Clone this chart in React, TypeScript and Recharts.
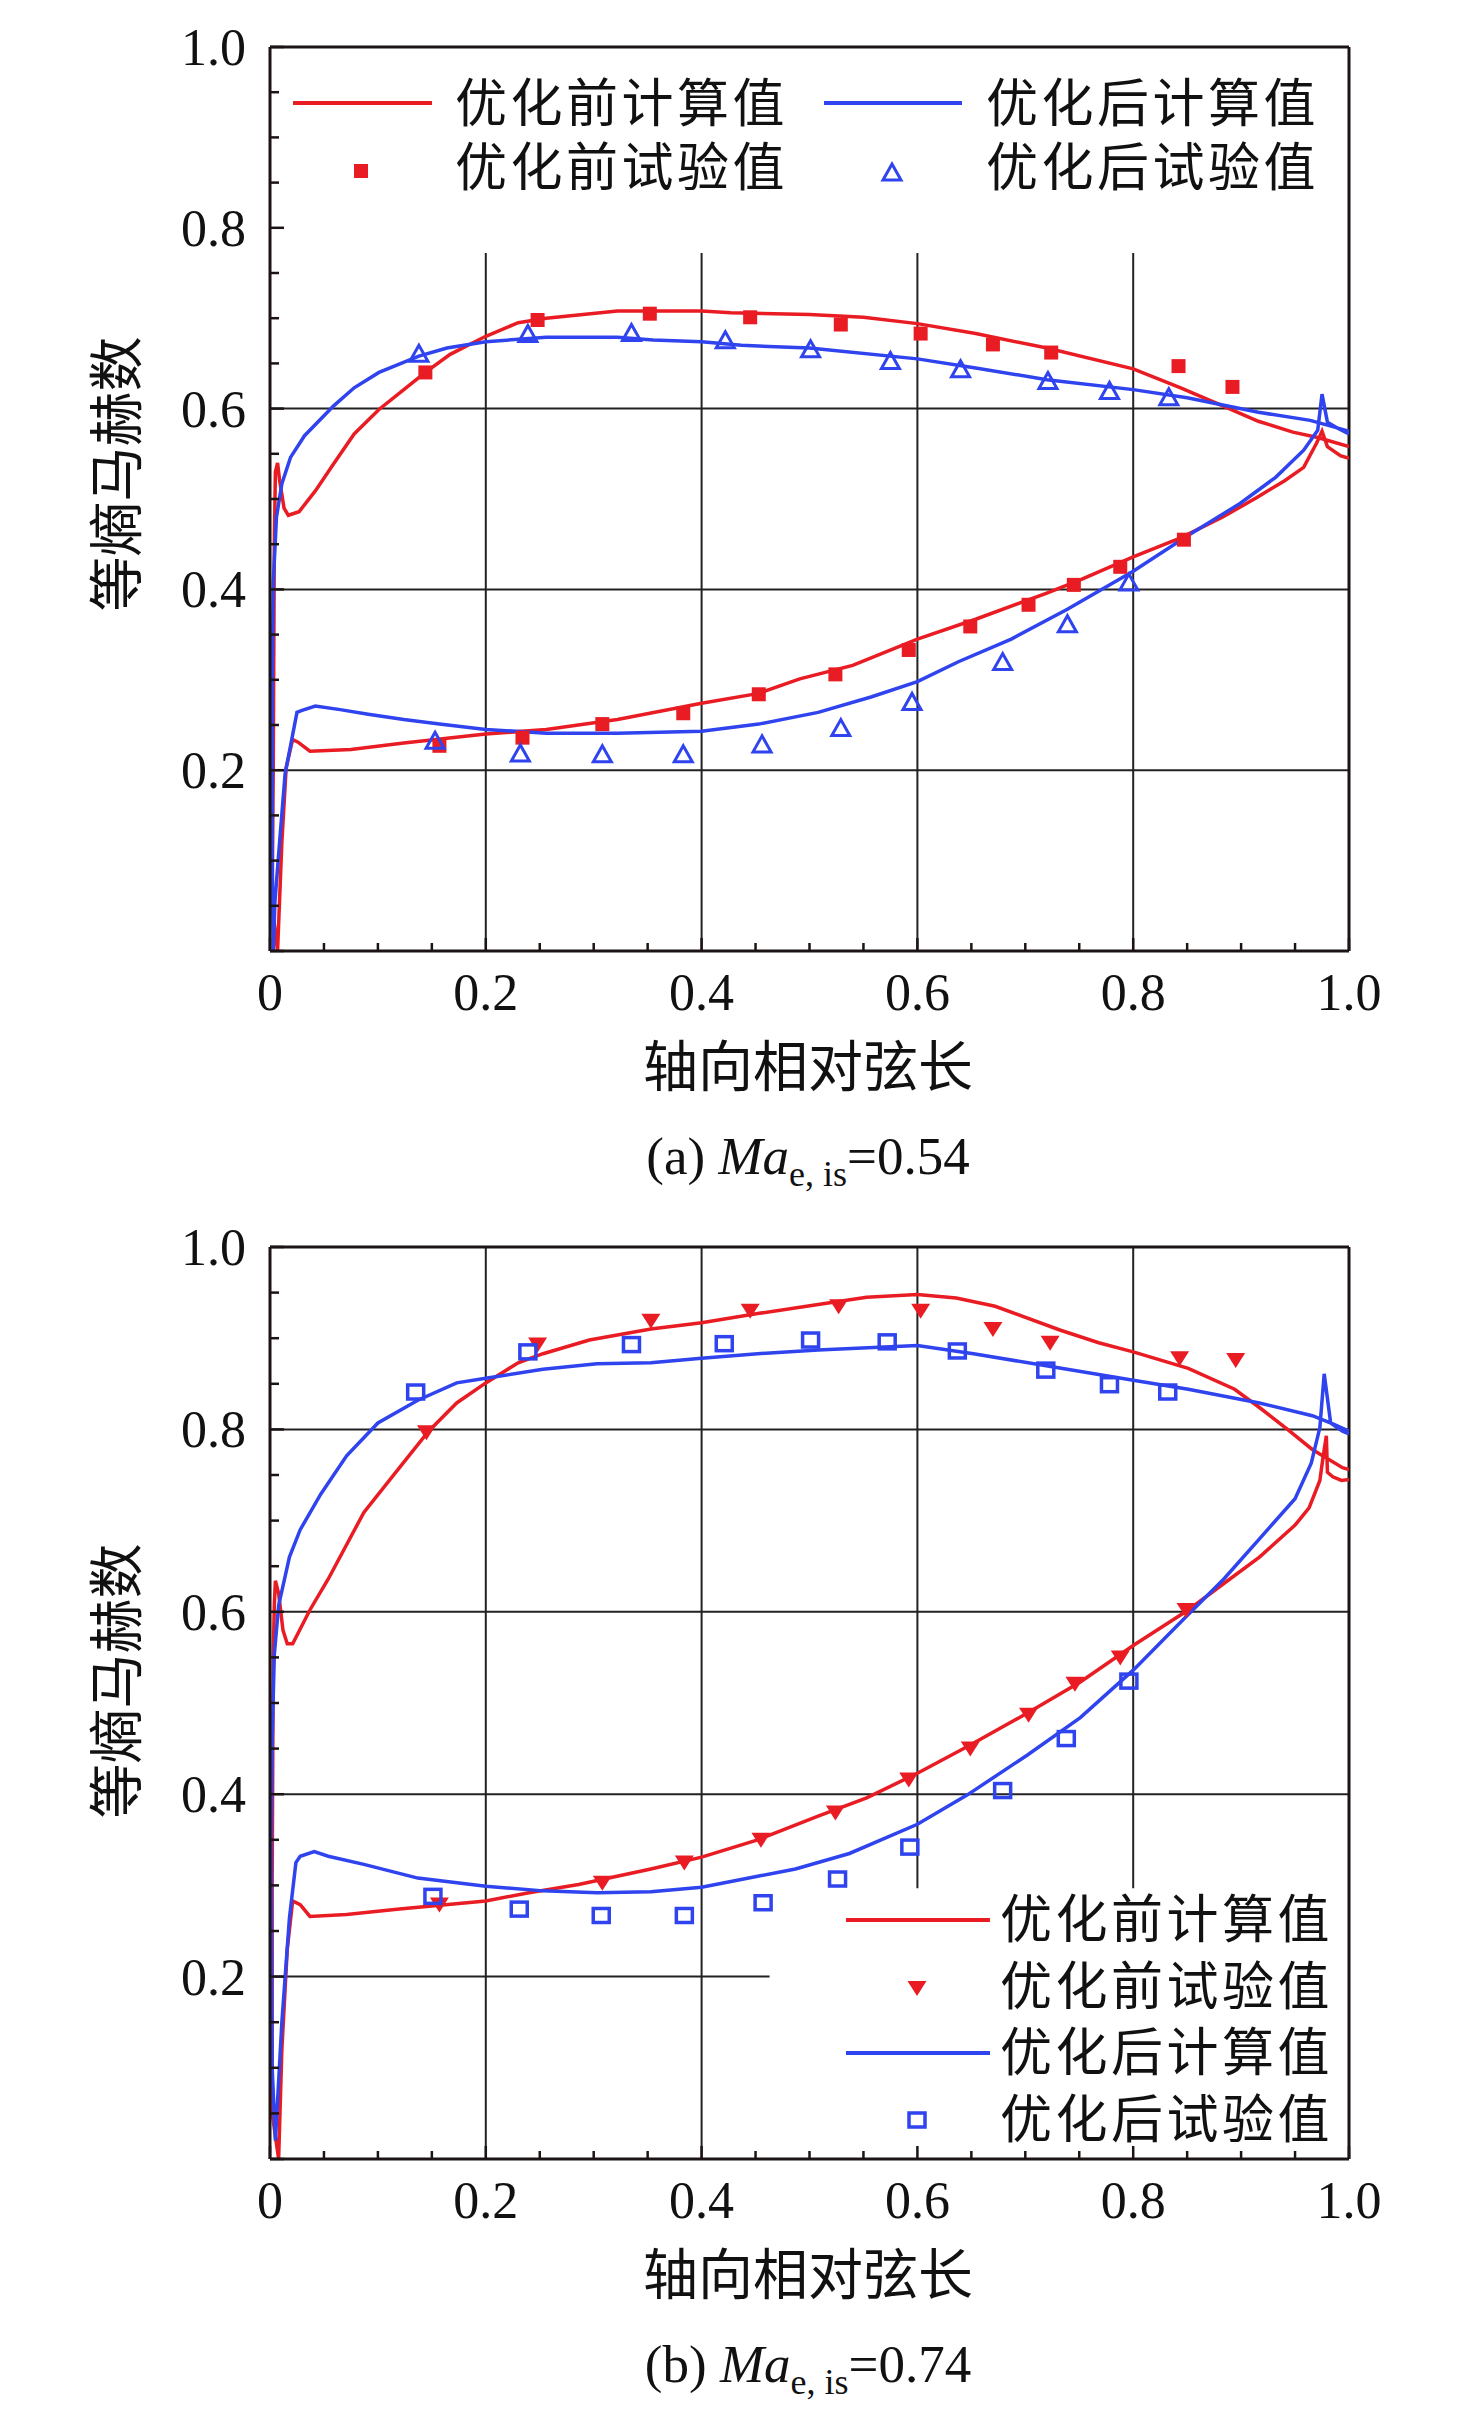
import React from 'react';
import { ComposedChart, Line, Scatter, XAxis, YAxis, ReferenceLine } from 'recharts';

const RED = '#e91c24';
const BLUE = '#2f43ee';
const INK = '#1c1414';
const GRID = '#222222';
const SERIF = '"Liberation Serif", "Times New Roman", serif';
const CJK = '"Noto Sans CJK SC", "Noto Sans", sans-serif';

const X_TICKS = [0, 0.05, 0.1, 0.15, 0.2, 0.25, 0.3, 0.35, 0.4, 0.45, 0.5, 0.55, 0.6, 0.65, 0.7, 0.75, 0.8, 0.85, 0.9, 0.95, 1];
const Y_TICKS = [0, 0.05, 0.1, 0.15, 0.2, 0.25, 0.3, 0.35, 0.4, 0.45, 0.5, 0.55, 0.6, 0.65, 0.7, 0.75, 0.8, 0.85, 0.9, 0.95, 1];

const LEGEND_NAMES = ['优化前计算值', '优化后计算值', '优化前试验值', '优化后试验值'];
const Y_TITLE = '等熵马赫数';
const X_TITLE = '轴向相对弦长';

// (a) Ma = 0.54 — calc curves run TE pressure side -> LE -> TE suction side
const A_BEFORE_CALC = [
  [1.0, 0.545], [0.992, 0.548], [0.98, 0.558], [0.975, 0.575], [0.97, 0.562], [0.958, 0.535], [0.94, 0.52],
  [0.915, 0.502], [0.883, 0.48], [0.844, 0.457], [0.8, 0.436], [0.752, 0.411], [0.72, 0.396], [0.654, 0.367],
  [0.6, 0.345], [0.54, 0.316], [0.491, 0.301], [0.453, 0.285], [0.4, 0.274], [0.322, 0.256], [0.256, 0.245],
  [0.2, 0.24], [0.124, 0.23], [0.075, 0.223], [0.037, 0.221], [0.026, 0.231], [0.021, 0.234], [0.015, 0.203],
  [0.011, 0.12], [0.007, 0.0],
  [0.002, 0.05], [0.003, 0.2], [0.004, 0.45], [0.005, 0.53], [0.007, 0.54], [0.009, 0.52], [0.013, 0.49],
  [0.017, 0.482], [0.027, 0.486], [0.042, 0.509], [0.059, 0.539], [0.078, 0.572], [0.101, 0.599], [0.124, 0.621],
  [0.144, 0.64], [0.167, 0.66], [0.2, 0.68], [0.23, 0.695], [0.256, 0.7], [0.322, 0.708], [0.4, 0.708],
  [0.427, 0.706], [0.5, 0.704], [0.55, 0.701], [0.6, 0.694], [0.654, 0.683], [0.72, 0.667], [0.8, 0.644],
  [0.844, 0.623], [0.883, 0.603], [0.916, 0.586], [0.948, 0.574], [0.971, 0.568], [1.0, 0.558],
];
const A_AFTER_CALC = [
  [1.0, 0.572], [0.99, 0.578], [0.98, 0.585], [0.975, 0.616], [0.971, 0.576], [0.958, 0.554], [0.932, 0.524],
  [0.899, 0.495], [0.85, 0.459], [0.8, 0.42], [0.739, 0.378], [0.687, 0.345], [0.638, 0.32], [0.6, 0.298],
  [0.557, 0.281], [0.508, 0.264], [0.453, 0.251], [0.4, 0.243], [0.322, 0.241], [0.256, 0.241], [0.2, 0.245],
  [0.157, 0.251], [0.124, 0.256], [0.091, 0.262], [0.065, 0.267], [0.042, 0.271], [0.029, 0.266], [0.025, 0.264],
  [0.02, 0.233], [0.014, 0.196], [0.009, 0.122], [0.0046, 0.055], [0.003, 0.0],
  [0.002, 0.1], [0.002, 0.3], [0.003, 0.407], [0.006, 0.48], [0.011, 0.517], [0.019, 0.546], [0.032, 0.57],
  [0.059, 0.603], [0.078, 0.623], [0.101, 0.64], [0.138, 0.658], [0.164, 0.667], [0.2, 0.674], [0.256, 0.679],
  [0.322, 0.679], [0.355, 0.676], [0.4, 0.674], [0.437, 0.67], [0.5, 0.667], [0.6, 0.655], [0.654, 0.645],
  [0.72, 0.632], [0.8, 0.621], [0.85, 0.612], [0.916, 0.596], [0.964, 0.587], [0.985, 0.58], [1.0, 0.575],
];
const A_BEFORE_TEST = [
  [0.144, 0.64], [0.248, 0.698], [0.352, 0.705], [0.445, 0.701], [0.529, 0.693], [0.603, 0.683], [0.67, 0.671],
  [0.724, 0.662], [0.842, 0.647], [0.892, 0.624],
  [0.157, 0.227], [0.234, 0.236], [0.308, 0.251], [0.383, 0.263], [0.453, 0.284], [0.524, 0.306], [0.592, 0.333],
  [0.649, 0.359], [0.703, 0.383], [0.745, 0.405], [0.788, 0.425], [0.847, 0.455],
];
const A_AFTER_TEST = [
  [0.138, 0.66], [0.239, 0.682], [0.335, 0.683], [0.422, 0.675], [0.501, 0.665], [0.575, 0.652], [0.64, 0.643],
  [0.721, 0.63], [0.778, 0.619], [0.833, 0.612],
  [0.153, 0.232], [0.232, 0.218], [0.308, 0.217], [0.383, 0.217], [0.456, 0.228], [0.529, 0.246], [0.595, 0.275],
  [0.679, 0.319], [0.739, 0.361], [0.796, 0.407],
];

// (b) Ma = 0.74
const B_BEFORE_CALC = [
  [1.0, 0.745], [0.993, 0.744], [0.985, 0.748], [0.98, 0.753], [0.979, 0.793], [0.976, 0.77], [0.973, 0.744],
  [0.963, 0.714], [0.95, 0.695], [0.917, 0.66], [0.884, 0.631], [0.851, 0.602], [0.8, 0.563], [0.751, 0.523],
  [0.702, 0.489], [0.646, 0.452], [0.6, 0.423], [0.553, 0.396], [0.508, 0.376], [0.452, 0.35], [0.4, 0.331],
  [0.353, 0.318], [0.286, 0.301], [0.24, 0.292], [0.2, 0.283], [0.12, 0.274], [0.071, 0.268], [0.037, 0.266],
  [0.028, 0.279], [0.021, 0.283], [0.016, 0.23], [0.011, 0.12], [0.008, 0.0],
  [0.002, 0.05], [0.002, 0.3], [0.003, 0.55], [0.004, 0.607], [0.005, 0.634], [0.008, 0.62], [0.012, 0.58],
  [0.016, 0.565], [0.021, 0.565], [0.037, 0.602], [0.054, 0.636], [0.087, 0.709], [0.12, 0.758], [0.147, 0.798],
  [0.173, 0.829], [0.2, 0.851], [0.23, 0.873], [0.253, 0.883], [0.296, 0.898], [0.353, 0.91], [0.4, 0.917],
  [0.452, 0.927], [0.508, 0.937], [0.553, 0.945], [0.6, 0.948], [0.636, 0.944], [0.672, 0.935], [0.732, 0.909],
  [0.768, 0.895], [0.8, 0.885], [0.851, 0.867], [0.894, 0.844], [0.917, 0.824], [0.943, 0.8], [0.966, 0.778],
  [0.994, 0.758], [1.0, 0.756],
];
const B_AFTER_CALC = [
  [1.0, 0.795], [0.994, 0.798], [0.983, 0.807], [0.977, 0.861], [0.973, 0.802], [0.965, 0.763], [0.95, 0.724],
  [0.917, 0.68], [0.884, 0.636], [0.851, 0.597], [0.8, 0.536], [0.751, 0.484], [0.702, 0.443], [0.646, 0.399],
  [0.6, 0.367], [0.537, 0.335], [0.487, 0.318], [0.452, 0.31], [0.4, 0.298], [0.353, 0.293], [0.303, 0.292],
  [0.253, 0.294], [0.2, 0.299], [0.137, 0.308], [0.087, 0.323], [0.054, 0.332], [0.041, 0.337], [0.028, 0.332],
  [0.024, 0.325], [0.018, 0.264], [0.011, 0.15], [0.005, 0.02],
  [0.002, 0.1], [0.001, 0.35], [0.002, 0.46], [0.004, 0.553], [0.008, 0.607], [0.018, 0.66], [0.028, 0.69],
  [0.047, 0.729], [0.071, 0.771], [0.1, 0.807], [0.137, 0.832], [0.173, 0.851], [0.2, 0.856], [0.253, 0.866],
  [0.303, 0.872], [0.353, 0.873], [0.4, 0.878], [0.452, 0.883], [0.508, 0.887], [0.6, 0.892], [0.652, 0.883],
  [0.718, 0.87], [0.8, 0.854], [0.851, 0.844], [0.917, 0.829], [0.966, 0.815], [0.985, 0.806], [1.0, 0.798],
];
const B_BEFORE_TEST = [
  [0.145, 0.797], [0.248, 0.893], [0.353, 0.919], [0.445, 0.93], [0.527, 0.935], [0.603, 0.93], [0.67, 0.91],
  [0.723, 0.895], [0.843, 0.878], [0.895, 0.876],
  [0.157, 0.279], [0.308, 0.303], [0.384, 0.325], [0.455, 0.35], [0.524, 0.38], [0.592, 0.416], [0.649, 0.45],
  [0.703, 0.487], [0.746, 0.521], [0.788, 0.55], [0.849, 0.602],
];
const B_AFTER_TEST = [
  [0.135, 0.841], [0.239, 0.885], [0.335, 0.893], [0.421, 0.894], [0.501, 0.898], [0.572, 0.896], [0.637, 0.886],
  [0.719, 0.865], [0.778, 0.849], [0.832, 0.841],
  [0.151, 0.288], [0.231, 0.274], [0.307, 0.267], [0.384, 0.267], [0.457, 0.281], [0.526, 0.307], [0.593, 0.342],
  [0.679, 0.404], [0.738, 0.461], [0.796, 0.524],
];

const toPts = (arr: number[][]) => arr.map(([x, y]) => ({ x, y }));

const fmt = (v: number) => (v === 0 ? '0' : v.toFixed(1));
const isMajor = (v: number) => Math.abs(v * 5 - Math.round(v * 5)) < 1e-6;

// markers
const RedSquare = ({ cx, cy }: any) => <rect x={cx - 7} y={cy - 7} width={14} height={14} fill={RED} />;
const BlueTriangle = ({ cx, cy }: any) => (
  <polygon points={`${cx},${cy - 9} ${cx - 9},${cy + 7} ${cx + 9},${cy + 7}`} fill="none" stroke={BLUE} strokeWidth={3} />
);
const RedDownTriangle = ({ cx, cy }: any) => (
  <polygon points={`${cx - 9.5},${cy - 7} ${cx + 9.5},${cy - 7} ${cx},${cy + 8}`} fill={RED} />
);
const BlueSquare = ({ cx, cy }: any) => (
  <rect x={cx - 8} y={cy - 7} width={16} height={14} fill="none" stroke={BLUE} strokeWidth={3.5} />
);

const XTick = ({ x, y, payload }: any) => {
  const v = payload.value;
  const major = isMajor(v);
  return (
    <g>
      <line x1={x} x2={x} y1={y} y2={y - (major ? 13 : 8)} stroke={INK} strokeWidth={2.5} />
      {major && (
        <text x={x} y={y + 59} textAnchor="middle" fontSize={52} fontFamily={SERIF} fill="#111">
          {fmt(v)}
        </text>
      )}
    </g>
  );
};

const YTick = ({ x, y, payload }: any) => {
  const v = payload.value;
  const major = isMajor(v);
  return (
    <g>
      <line x1={x} x2={x + (major ? 14 : 9)} y1={y} y2={y} stroke={INK} strokeWidth={2.5} />
      {major && v > 0 && (
        <text x={x - 24} y={y + 18} textAnchor="end" fontSize={52} fontFamily={SERIF} fill="#111">
          {fmt(v)}
        </text>
      )}
    </g>
  );
};

type PanelProps = {
  height: number;
  bottom: number;
  before: number[][];
  after: number[][];
  beforeTest: number[][];
  afterTest: number[][];
  BeforeMark: any;
  AfterMark: any;
  hLines: number[][];
  vLines: number[][];
};

const Panel = ({ height, bottom, before, after, beforeTest, afterTest, BeforeMark, AfterMark, hLines, vLines }: PanelProps) => (
  <ComposedChart width={1476} height={height} margin={{ top: 47, right: 127, bottom, left: 170 }}>
    <XAxis
      type="number"
      dataKey="x"
      domain={[0, 1]}
      ticks={X_TICKS}
      interval={0}
      tick={<XTick />}
      tickLine={false}
      tickSize={0}
      tickMargin={0}
      height={60}
      axisLine={{ stroke: INK, strokeWidth: 3 }}
      allowDataOverflow
    />
    <YAxis
      type="number"
      dataKey="y"
      domain={[0, 1]}
      ticks={Y_TICKS}
      interval={0}
      tick={<YTick />}
      tickLine={false}
      tickSize={0}
      tickMargin={0}
      width={100}
      axisLine={{ stroke: INK, strokeWidth: 3 }}
      allowDataOverflow
    />
    {hLines.map(([y, x0, x1]) => (
      <ReferenceLine key={`h${y}`} segment={[{ x: x0, y }, { x: x1, y }]} stroke={GRID} strokeWidth={2} />
    ))}
    {vLines.map(([x, y0, y1]) => (
      <ReferenceLine key={`v${x}`} segment={[{ x, y: y0 }, { x, y: y1 }]} stroke={GRID} strokeWidth={2} />
    ))}
    <ReferenceLine y={1} stroke={INK} strokeWidth={3} />
    <ReferenceLine x={1} stroke={INK} strokeWidth={3} />
    <Line data={toPts(before)} dataKey="y" type="linear" stroke={RED} strokeWidth={3.5} dot={false} activeDot={false} isAnimationActive={false} />
    <Line data={toPts(after)} dataKey="y" type="linear" stroke={BLUE} strokeWidth={3.5} dot={false} activeDot={false} isAnimationActive={false} />
    <Scatter data={toPts(beforeTest)} shape={(p: any) => <BeforeMark cx={p.cx} cy={p.cy} />} isAnimationActive={false} />
    <Scatter data={toPts(afterTest)} shape={(p: any) => <AfterMark cx={p.cx} cy={p.cy} />} isAnimationActive={false} />
  </ComposedChart>
);

// legend text: slightly smaller glyphs, spaced out to keep the reference width
const cjkText = (x: number, y: number, s: string) => (
  <text x={x} y={y} fontSize={52} letterSpacing={3.5} fontFamily={CJK} dominantBaseline="central" fill="#111">
    {s}
  </text>
);

const Caption = ({ y, tag, value }: { y: number; tag: string; value: string }) => (
  <text x={808} y={y} textAnchor="middle" fontSize={53} fontFamily={SERIF} fill="#111">
    {`(${tag}) `}
    <tspan fontStyle="italic">Ma</tspan>
    <tspan fontSize={36} dy={12}>e, is</tspan>
    <tspan dy={-12}>{`=${value}`}</tspan>
  </text>
);

export default function App() {
  return (
    <div style={{ position: 'absolute', left: 0, top: 0, width: 1476, height: 2413, background: '#fff' }}>
      <div style={{ position: 'absolute', left: 0, top: 0 }}>
        <Panel
          height={1200}
          bottom={189}
          before={A_BEFORE_CALC}
          after={A_AFTER_CALC}
          beforeTest={A_BEFORE_TEST}
          afterTest={A_AFTER_TEST}
          BeforeMark={RedSquare}
          AfterMark={BlueTriangle}
          hLines={[[0.2, 0, 1], [0.4, 0, 1], [0.6, 0, 1]]}
          vLines={[[0.2, 0, 0.772], [0.4, 0, 0.772], [0.6, 0, 0.772], [0.8, 0, 0.772]]}
        />
      </div>
      <div style={{ position: 'absolute', left: 0, top: 1200 }}>
        <Panel
          height={1213}
          bottom={194}
          before={B_BEFORE_CALC}
          after={B_AFTER_CALC}
          beforeTest={B_BEFORE_TEST}
          afterTest={B_AFTER_TEST}
          BeforeMark={RedDownTriangle}
          AfterMark={BlueSquare}
          hLines={[[0.2, 0, 0.463], [0.4, 0, 1], [0.6, 0, 1], [0.8, 0, 1]]}
          vLines={[[0.2, 0, 1], [0.4, 0, 1], [0.6, 0.297, 1], [0.8, 0.297, 1]]}
        />
      </div>
      <svg width={1476} height={2413} style={{ position: 'absolute', left: 0, top: 0, pointerEvents: 'none' }}>
        {/* panel (a) */}
        <text transform="translate(112,474) rotate(-90)" textAnchor="middle" dominantBaseline="central" fontSize={55} fontFamily={CJK} fill="#111">
          {Y_TITLE}
        </text>
        <text x={808} y={1062} textAnchor="middle" dominantBaseline="central" fontSize={55} fontFamily={CJK} fill="#111">
          {X_TITLE}
        </text>
        <Caption y={1174} tag="a" value="0.54" />
        <line x1={293} x2={432} y1={103} y2={103} stroke={RED} strokeWidth={4} />
        {cjkText(455, 99, LEGEND_NAMES[0])}
        <line x1={824} x2={962} y1={103} y2={103} stroke={BLUE} strokeWidth={4} />
        {cjkText(986, 99, LEGEND_NAMES[1])}
        <RedSquare cx={361} cy={171} />
        {cjkText(455, 163, LEGEND_NAMES[2])}
        <BlueTriangle cx={892} cy={173} />
        {cjkText(986, 163, LEGEND_NAMES[3])}

        {/* panel (b) */}
        <text transform="translate(112,1681) rotate(-90)" textAnchor="middle" dominantBaseline="central" fontSize={55} fontFamily={CJK} fill="#111">
          {Y_TITLE}
        </text>
        <text x={808} y={2270} textAnchor="middle" dominantBaseline="central" fontSize={55} fontFamily={CJK} fill="#111">
          {X_TITLE}
        </text>
        <Caption y={2382} tag="b" value="0.74" />
        <line x1={846} x2={990} y1={1920} y2={1920} stroke={RED} strokeWidth={4} />
        {cjkText(1000, 1915, LEGEND_NAMES[0])}
        <RedDownTriangle cx={917} cy={1988} />
        {cjkText(1000, 1982, LEGEND_NAMES[2])}
        <line x1={846} x2={990} y1={2053} y2={2053} stroke={BLUE} strokeWidth={4} />
        {cjkText(1000, 2048, LEGEND_NAMES[1])}
        <BlueSquare cx={917} cy={2120} />
        {cjkText(1000, 2115, LEGEND_NAMES[3])}
      </svg>
    </div>
  );
}
